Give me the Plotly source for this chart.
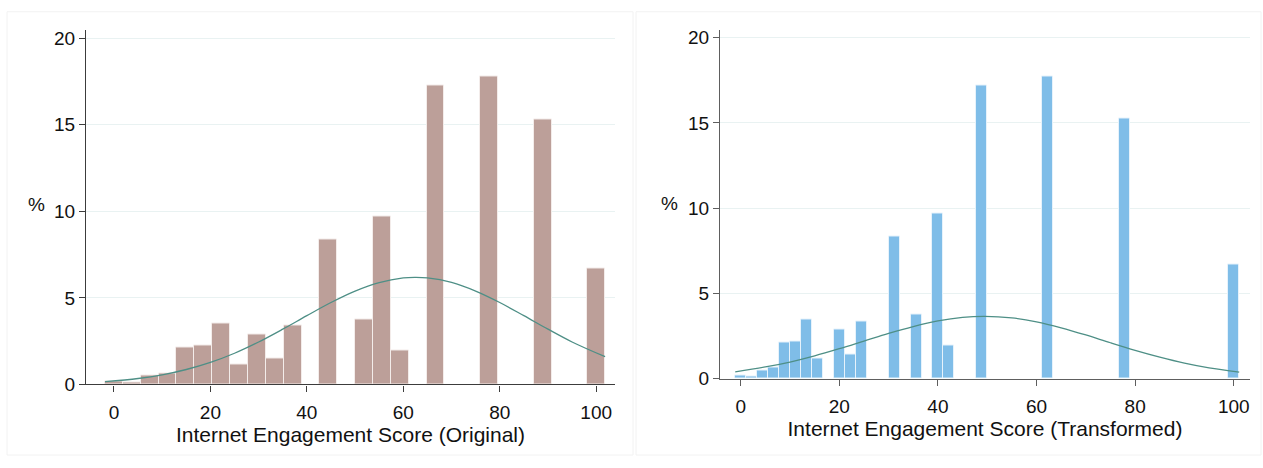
import plotly.graph_objects as go

# Histogram of the original score: bin centres and percentage of respondents
orig_bins = [0, 3.70, 7.41, 11.11, 14.81, 18.52, 22.22, 25.93, 29.63, 33.33,
             37.04, 44.44, 51.85, 55.56, 59.26, 66.67, 77.78, 88.89, 100]
orig_pct = [0.15, 0.10, 0.50, 0.65, 2.13, 2.25, 3.50, 1.16, 2.90, 1.48,
            3.40, 8.40, 3.76, 9.72, 1.93, 17.25, 17.80, 15.28, 6.70]

# Histogram of the transformed score
trans_bins = [0, 2.22, 4.44, 6.67, 8.89, 11.11, 13.33, 15.56, 20.00, 22.22,
              24.44, 31.11, 35.56, 40.00, 42.22, 48.89, 62.22, 77.78, 100]
trans_pct = [0.17, 0.11, 0.46, 0.64, 2.09, 2.20, 3.48, 1.16, 2.87, 1.43,
             3.37, 8.35, 3.74, 9.68, 1.94, 17.20, 17.72, 15.23, 6.67]

# Overlaid normal density (in %), sampled along each score
orig_curve_x = [-1.85, 5, 10, 15, 20, 25, 30, 35, 40, 45, 50, 55, 60, 62.5,
                65, 70, 75, 80, 85, 90, 95, 101.85]
orig_curve_y = [0.16, 0.34, 0.55, 0.86, 1.27, 1.80, 2.45, 3.19, 3.97, 4.73,
                5.39, 5.88, 6.15, 6.18, 6.15, 5.89, 5.39, 4.73, 3.97, 3.19,
                2.45, 1.60]
trans_curve_x = [-1.11, 5, 10, 15, 20, 25, 30, 35, 40, 45, 49.5, 55, 60, 65,
                 70, 75, 80, 85, 90, 95, 101.11]
trans_curve_y = [0.39, 0.68, 0.97, 1.33, 1.75, 2.20, 2.65, 3.05, 3.38, 3.59,
                 3.65, 3.56, 3.33, 2.98, 2.56, 2.10, 1.66, 1.26, 0.91, 0.63,
                 0.38]

x_ticks = [0, 20, 40, 60, 80, 100]
y_ticks = [0, 5, 10, 15, 20]
x_titles = ["Internet Engagement Score (Original)",
            "Internet Engagement Score (Transformed)"]

ORIG_WIDTH = 100 / 27
TRANS_WIDTH = 100 / 45
FONT = "Liberation Sans, Arial, sans-serif"
CURVE_COLOR = "#4e8f86"

fig = go.Figure()
fig.add_trace(go.Bar(
    x=orig_bins, y=orig_pct, width=ORIG_WIDTH, xaxis="x", yaxis="y",
    marker=dict(color="#bc9f99", line=dict(color="#f3ecea", width=1)),
    showlegend=False, hoverinfo="x+y"))
fig.add_trace(go.Scatter(
    x=orig_curve_x, y=orig_curve_y, mode="lines", xaxis="x", yaxis="y",
    line=dict(color=CURVE_COLOR, width=1.3, shape="spline"), showlegend=False))
fig.add_trace(go.Bar(
    x=trans_bins, y=trans_pct, width=TRANS_WIDTH, xaxis="x2", yaxis="y2",
    marker=dict(color="#7fbde8", line=dict(color="#e6f2fb", width=1)),
    showlegend=False, hoverinfo="x+y"))
fig.add_trace(go.Scatter(
    x=trans_curve_x, y=trans_curve_y, mode="lines", xaxis="x2", yaxis="y2",
    line=dict(color=CURVE_COLOR, width=1.3, shape="spline"), showlegend=False))

W, H = 1263, 468


def px_x(p):
    return p / W


def px_y(p):
    return 1 - p / H


def x_axis(domain, rng, anchor, title, color, title_gap):
    return dict(
        domain=domain, range=rng, anchor=anchor, tickvals=x_ticks,
        showgrid=False, zeroline=False, showline=True, linecolor=color,
        linewidth=1.3, ticks="outside", ticklen=6, tickcolor=color,
        tickwidth=1.2, ticklabelstandoff=5,
        tickfont=dict(family=FONT, size=19, color="#111"),
        title=dict(text=title, font=dict(family=FONT, size=21, color="#111"),
                   standoff=title_gap),
        fixedrange=True)


def y_axis(domain, rng, anchor, color):
    return dict(
        domain=domain, range=rng, anchor=anchor, tickvals=y_ticks,
        showgrid=True, gridcolor="#e9f2f2", gridwidth=1, zeroline=False,
        showline=True, linecolor=color, linewidth=1.3, ticks="outside",
        ticklen=6, tickcolor=color, tickwidth=1.2,
        tickfont=dict(family=FONT, size=19, color="#111"), fixedrange=True)


fig.update_layout(
    width=W, height=H, autosize=False,
    margin=dict(l=0, r=0, t=0, b=0),
    paper_bgcolor="white", plot_bgcolor="white",
    bargap=0,
    xaxis=x_axis([px_x(86), px_x(615)], [-5.8, 103.9], "y", x_titles[0],
                 "#3c3c3c", 2),
    yaxis=y_axis([px_y(393.3), px_y(29.3)], [0, 20.45], "x", "#3c3c3c"),
    xaxis2=x_axis([px_x(720), px_x(1250)], [-4.2, 103.3], "y2", x_titles[1],
                  "#5e5e5e", 4),
    yaxis2=y_axis([px_y(387.3), px_y(28.3)], [0, 20.48], "x2", "#5e5e5e"),
    shapes=[
        dict(type="rect", xref="paper", yref="paper",
             x0=px_x(7), x1=px_x(633), y0=px_y(466), y1=px_y(10),
             line=dict(color="#f2f2f2", width=1)),
        dict(type="rect", xref="paper", yref="paper",
             x0=px_x(636), x1=px_x(1261), y0=px_y(466), y1=px_y(10),
             line=dict(color="#f2f2f2", width=1)),
    ],
    annotations=[
        dict(text="%", xref="paper", yref="paper", x=px_x(46), y=px_y(208),
             xanchor="right", borderpad=0, showarrow=False,
             font=dict(family=FONT, size=19, color="#111")),
        dict(text="%", xref="paper", yref="paper", x=px_x(679), y=px_y(207),
             xanchor="right", borderpad=0, showarrow=False,
             font=dict(family=FONT, size=19, color="#111")),
    ],
)

fig.write_html("out.html")
